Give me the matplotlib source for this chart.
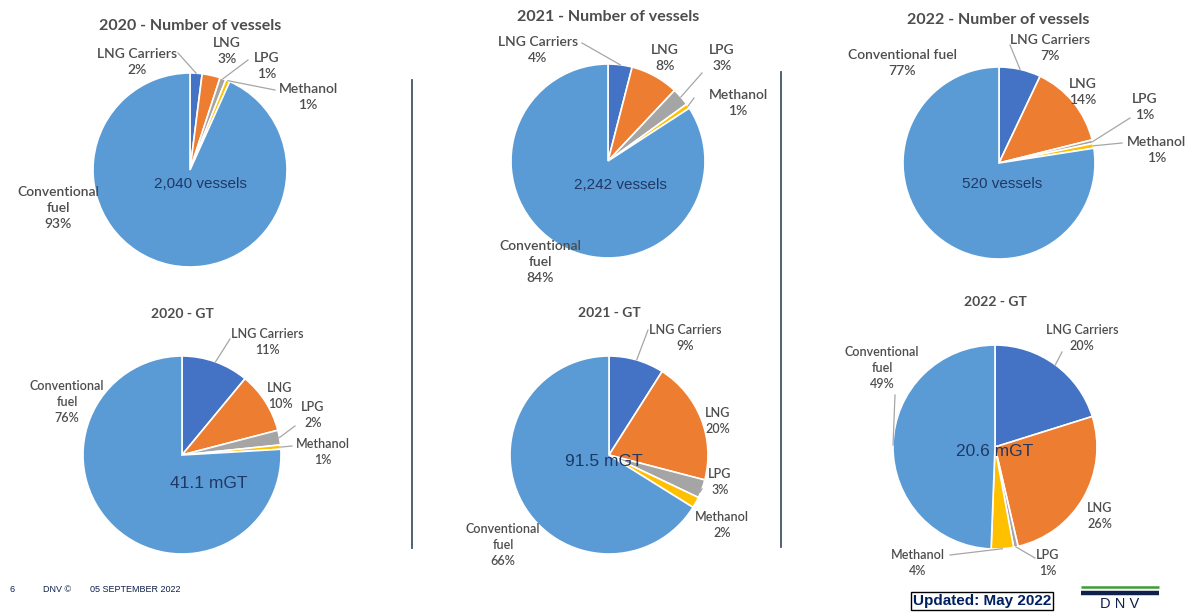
import matplotlib
matplotlib.use("Agg")
import matplotlib.pyplot as plt
import numpy as np

# ---------------- data ----------------
categories = ["LNG Carriers", "LNG", "LPG", "Methanol", "Conventional fuel"]
slice_colors = ["#4472C4", "#ED7D31", "#A5A5A5", "#FFC000", "#5B9BD5"]

vessels_2020 = [2.0, 3.0, 1.0, 0.7, 93.0]
vessels_2021 = [4.0, 8.0, 3.0, 0.8, 84.0]
vessels_2022 = [7.0, 14.0, 0.6, 0.8, 77.0]
gt_2020 = [11.0, 10.0, 2.4, 0.7, 76.0]
gt_2021 = [9.0, 20.0, 3.0, 1.8, 66.0]
gt_2022 = [20.0, 26.0, 0.7, 3.5, 49.0]

chart_titles = ["2020 - Number of vessels", "2021 - Number of vessels",
                "2022 - Number of vessels", "2020 - GT", "2021 - GT", "2022 - GT"]
center_texts = ["2,040 vessels", "2,242 vessels", "520 vessels",
                "41.1 mGT", "91.5 mGT", "20.6 mGT"]
series = [vessels_2020, vessels_2021, vessels_2022, gt_2020, gt_2021, gt_2022]

# ---------------- layout (pixel coordinates, y downward) ----------------
W, H = 1188, 613
layout = [
    dict(c=(190, 170), r=97, t=(190, 26), ts=11.5, cp=(200, 184), cs=11, ls=10, lsp=1.45,
         lab=[(137, 62), (227, 51), (267, 66), (308, 97), (58, 208)],
         lead=[(178, 53), None, (248, 60), (275, 90), None], conv="Conventional\nfuel"),
    dict(c=(608, 161), r=97, t=(608, 17), ts=11.5, cp=(620, 185), cs=11, ls=10, lsp=1.45,
         lab=[(538, 50), (665, 58), (722, 58), (738, 103), (540, 262)],
         lead=[(582, 43), None, (702, 73), (694, 98), None], conv="Conventional\nfuel"),
    dict(c=(999, 163), r=96, t=(998, 20), ts=11.5, cp=(1002, 184), cs=11, ls=10, lsp=1.45,
         lab=[(1050, 48), (1083, 92), (1145, 107), (1157, 150), (902, 63)],
         lead=[(1010, 45), None, (1130, 118), (1122, 143), None], conv="Conventional fuel"),
    dict(c=(182, 455), r=99, t=(182, 314), ts=10, cp=(209, 484), cs=12.5, ls=9, lsp=1.4,
         lab=[(267, 342), (280, 396), (313, 415), (323, 452), (67, 402)],
         lead=[(230, 339), None, (295, 426), (292, 446), None], conv="Conventional\nfuel"),
    dict(c=(609, 455), r=99, t=(609, 313), ts=10, cp=(604, 462), cs=12.5, ls=9, lsp=1.4,
         lab=[(685, 338), (718, 421), (720, 482), (722, 525), (503, 545)],
         lead=[(648, 330), None, (700, 492), None, None], conv="Conventional\nfuel"),
    dict(c=(995, 447), r=102, t=(995, 302), ts=10, cp=(995, 452), cs=12.5, ls=9, lsp=1.4,
         lab=[(1082, 338), (1100, 516), (1048, 563), (918, 563), (882, 368)],
         lead=[(1062, 352), None, (1035, 558), (950, 555), (895, 395)], conv="Conventional\nfuel"),
]

label_color = "#4D4D4D"
title_color = "#4D4D4D"
center_color = "#1F3864"
lead_color = "#A6A6A6"
navy = "#0F204B"
fam_lab = ["Lato", "DejaVu Sans"]
fam_arial = ["Liberation Sans", "DejaVu Sans"]


def P(x, y):
    return (x, H - y)


fig = plt.figure(figsize=(W / 100, H / 100), dpi=100)
ax = fig.add_axes([0, 0, 1, 1])

for vals, title, ctext, L in zip(series, chart_titles, center_texts, layout):
    cx, cy = P(*L["c"])
    r = L["r"]
    ax.pie(vals, colors=slice_colors, startangle=90, counterclock=False,
           center=(cx, cy), radius=r,
           wedgeprops=dict(edgecolor="white", linewidth=1.2))
    total = float(sum(vals))
    cum = np.cumsum([0] + list(vals))[:-1]
    for i, (name, v) in enumerate(zip(categories, vals)):
        pct = int(round(100 * v / total))
        nm = L["conv"] if i == 4 else name
        lx, ly = P(*L["lab"][i])
        ax.text(lx, ly, f"{nm}\n{pct}%", ha="center", va="center",
                fontsize=L["ls"], color=label_color, family=fam_lab,
                fontweight="semibold", linespacing=L["lsp"])
        if L["lead"][i] is not None:
            mid = np.deg2rad(90 - 360 * (cum[i] + v / 2) / total)
            ex, ey = cx + r * np.cos(mid), cy + r * np.sin(mid)
            sx, sy = P(*L["lead"][i])
            ax.plot([sx, ex], [sy, ey], color=lead_color, lw=0.9)
    tx, ty = P(*L["t"])
    ax.text(tx, ty, title, ha="center", va="center", fontsize=L["ts"],
            color=title_color, family=fam_lab, fontweight="bold")
    px, py = P(*L["cp"])
    ax.text(px, py, ctext, ha="center", va="center", fontsize=L["cs"],
            color=center_color, family=fam_arial)

# dividers
ax.plot([412, 412], [H - 80, H - 548], color="#44546A", lw=1.3)
ax.plot([781, 781], [H - 72, H - 547], color="#44546A", lw=1.3)

# footer
ax.text(10, H - 590, "6", fontsize=6.5, color=navy, family=fam_arial, va="center")
ax.text(43, H - 590, "DNV \u00a9", fontsize=6.5, color=navy, family=fam_arial, va="center")
ax.text(90, H - 590, "05 SEPTEMBER 2022", fontsize=6.5, color=navy, family=fam_arial, va="center")

ax.text(982, H - 601, "Updated: May 2022", ha="center", va="center", fontsize=11,
        fontweight="bold", color="#002060", family=fam_arial,
        bbox=dict(boxstyle="square,pad=0.15", facecolor="white", edgecolor="black", lw=1))

# DNV logo
ax.plot([1081, 1159], [H - 587, H - 587], color="#3F9C35", lw=1.8, solid_capstyle="butt")
ax.plot([1081, 1159], [H - 592.5, H - 592.5], color=navy, lw=3.2, solid_capstyle="butt")
ax.text(1120, H - 604, "D N V", ha="center", va="center", fontsize=10.5, color=navy,
        family=fam_arial)

ax.set_xlim(0, W)
ax.set_ylim(0, H)
ax.set_aspect("equal")
ax.axis("off")

fig.savefig("out.png", dpi=100, facecolor="white")
